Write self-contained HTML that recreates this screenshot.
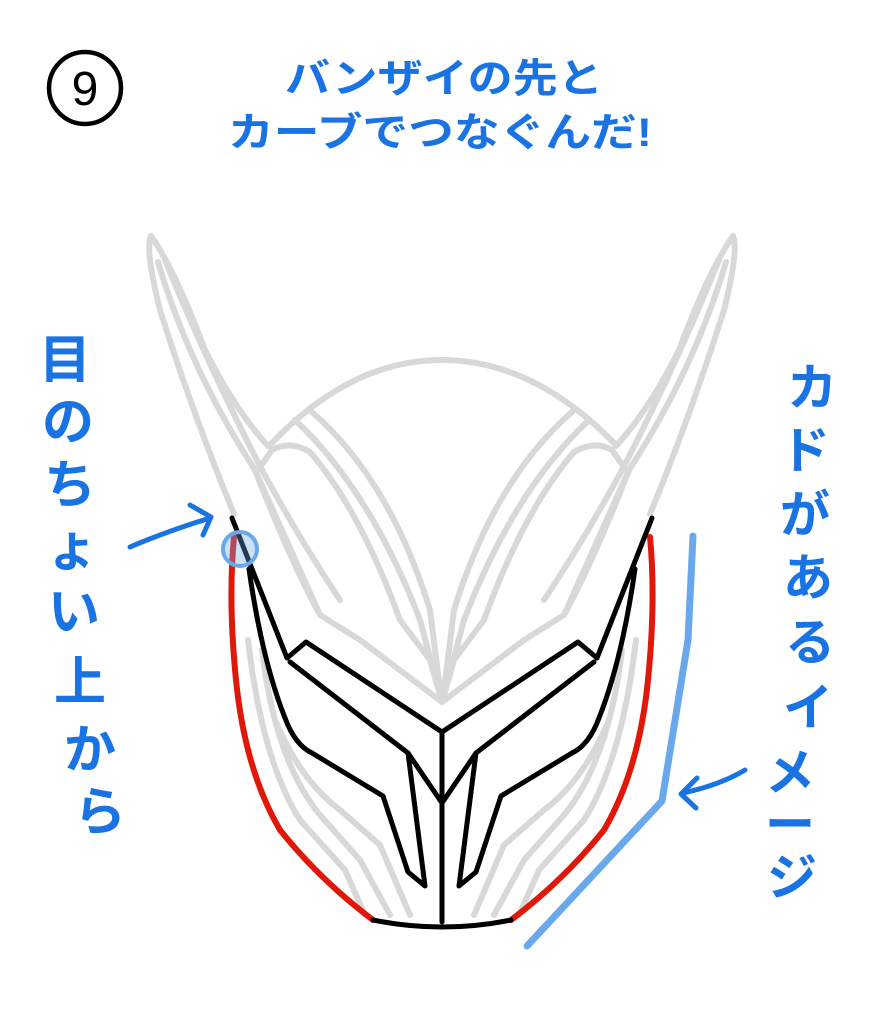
<!DOCTYPE html>
<html><head><meta charset="utf-8"><style>
html,body{margin:0;padding:0;background:#fff;}
svg{display:block;}
text{font-family:"Liberation Sans","Noto Sans CJK JP",sans-serif;fill:#1a73e3;font-weight:bold;}
</style></head><body>
<svg width="885" height="1024" viewBox="0 0 885 1024" xmlns="http://www.w3.org/2000/svg">
<rect width="885" height="1024" fill="#fff"/>
<!-- circled number -->
<circle cx="85" cy="88" r="36" fill="none" stroke="#000" stroke-width="4.5"/>
<text x="85" y="105" text-anchor="middle" font-size="48" style="fill:#000;font-weight:normal">9</text>
<!-- title -->
<text x="285" y="92" font-size="40" textLength="318" lengthAdjust="spacingAndGlyphs">バンザイの先と</text>
<text x="228" y="146" font-size="40" textLength="424" lengthAdjust="spacingAndGlyphs">カーブでつなぐんだ!</text>

<!-- gray helmet -->
<g fill="none" stroke="#d8d8d8" stroke-width="6" stroke-linejoin="round" stroke-linecap="round">
 <!-- left horn -->
 <path d="M151 236 Q145 250 160 310 Q195 420 234 514"/>
 <path d="M151 236 Q175 270 205 350 Q235 410 268 446"/>
 <path d="M158 262 Q190 370 255 470 Q290 560 320 615"/>
 <path d="M165 260 Q210 370 262 470 Q300 540 340 600"/>
 <!-- right horn -->
 <path d="M733 236 Q739 250 724 310 Q689 420 650 514"/>
 <path d="M733 236 Q709 270 679 350 Q649 410 616 446"/>
 <path d="M726 262 Q694 370 629 470 Q594 560 564 615"/>
 <path d="M719 260 Q674 370 622 470 Q584 540 544 600"/>
 <!-- dome -->
 <path d="M270 445 Q350 360 442 360 Q534 360 616 445"/>
 <path d="M258 470 L272 450 Q290 440 310 452 Q360 510 400 620 L430 660 L442 702 L454 660 L484 620 Q524 510 574 452 Q594 440 612 450 L626 470"/>
 <path d="M295 420 Q370 490 420 620 L436 680"/>
 <path d="M589 420 Q514 490 464 620 L448 680"/>
 <path d="M312 412 Q390 480 430 610 L440 690"/>
 <path d="M572 412 Q494 480 454 610 L444 690"/>
 <path d="M255 470 L320 615 L360 640 L442 702 L524 640 L564 615 L629 470"/>
 <!-- lower face gray lines -->
 <path d="M248 640 Q262 760 300 820 L345 870 L365 915"/>
 <path d="M262 650 Q275 760 320 815 L360 860 L390 915"/>
 <path d="M275 720 Q300 780 340 810 L380 845 L410 915"/>
 <path d="M636 640 Q622 760 584 820 L539 870 L519 915"/>
 <path d="M622 650 Q609 760 564 815 L524 860 L494 915"/>
 <path d="M609 720 Q584 780 544 810 L504 845 L474 915"/>
</g>

<!-- red outline -->
<g fill="none" stroke="#e0180a" stroke-width="6" stroke-linecap="round">
 <path d="M234 537 Q228 600 236 680 Q245 770 280 830 Q320 880 373 920"/>
 <path d="M650 537 Q656 600 648 680 Q639 770 604 830 Q564 880 511 920"/>
</g>

<!-- black lines -->
<g fill="none" stroke="#000" stroke-width="5" stroke-linejoin="round" stroke-linecap="round">
 <path d="M232 518 L287 658 L306 642 L442 732 L578 642 L597 658 L652 518"/>
 <path d="M290 662 L408 753 L442 803 L476 753 L594 662"/>
 <path d="M249 569 Q262 660 285 718 Q295 745 312 753 L383 796 L408 872 L425 886 L408 753"/>
 <path d="M635 569 Q622 660 599 718 Q589 745 572 753 L501 796 L476 872 L459 886 L476 753"/>
 <path d="M442 732 L442 922"/>
 <path d="M373 920 Q442 934 511 920"/>
</g>

<!-- blue light line & circle -->
<path d="M693 536 L688 640 L662 801 L527 946" fill="none" stroke="#6aa8ec" stroke-width="7" stroke-linecap="round" stroke-linejoin="round"/>
<circle cx="240" cy="549" r="17" fill="#6aa8ec" fill-opacity="0.35" stroke="#6aa8ec" stroke-width="4"/>

<!-- arrows -->
<g fill="none" stroke="#1a73e3" stroke-width="5" stroke-linecap="round" stroke-linejoin="round">
 <path d="M130 547 Q165 532 210 518"/>
 <path d="M190 505 L211 517 L203 535"/>
 <path d="M745 770 Q720 785 683 793"/>
 <path d="M697 778 L681 794 L696 808"/>
</g>

<!-- vertical texts -->
<g font-size="52" text-anchor="middle">
 <text x="65" y="378">目</text>
 <text x="68" y="440">の</text>
 <text x="70" y="503">ち</text>
 <text x="72" y="566">ょ</text>
 <text x="74" y="630">い</text>
 <text x="80" y="700">上</text>
 <text x="90" y="768">か</text>
 <text x="100" y="830">ら</text>
</g>
<g font-size="50" text-anchor="middle">
 <text x="812" y="405">カ</text>
 <text x="805" y="468">ド</text>
 <text x="805" y="532">が</text>
 <text x="808" y="595">あ</text>
 <text x="810" y="660">る</text>
 <text x="808" y="725">イ</text>
 <text x="790" y="790">メ</text>
 <text x="790" y="842">ー</text>
 <text x="792" y="895">ジ</text>
</g>
</svg>
</body></html>
